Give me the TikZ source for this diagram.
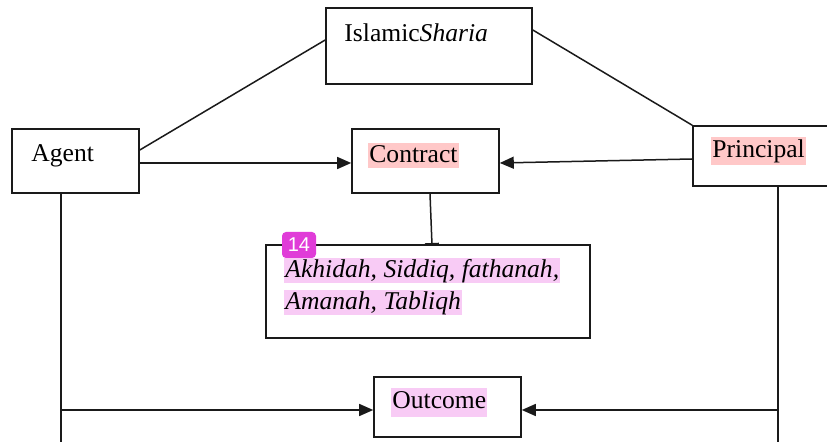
\documentclass[tikz,border=0pt]{standalone}
\usepackage{fontspec}
\setmainfont{Liberation Serif}
\setsansfont{Liberation Sans}
\usetikzlibrary{arrows.meta,calc}
\definecolor{hlred}{HTML}{FFC8C8}
\definecolor{hlmag}{HTML}{F8CBF5}
\definecolor{badge}{HTML}{E03CD8}
\definecolor{linec}{HTML}{1A1A1A}
\begin{document}
\begin{tikzpicture}[x=0.5pt,y=-0.5pt,
  box/.style={draw=linec,line width=0.8pt,inner sep=0pt},
  lbl/.style={inner xsep=0.5pt,inner ysep=0pt,text height=9.6pt,text depth=2.9pt,anchor=west,font=\fontsize{12.8}{15}\selectfont},
  hlr/.style={lbl,fill=hlred},
  hlm/.style={lbl,fill=hlmag},
  conn/.style={draw=linec,line width=0.75pt},
  tri/.style={conn,-{Triangle[length=7pt,width=6pt]}},
  tee/.style={conn,-{Bar[width=7pt,line width=0.9pt]}}]
\useasboundingbox (0,0) rectangle (827,442);
\clip (0,0) rectangle (827,442);
\fill[white] (0,0) rectangle (827,442);
% boxes
\node[box,minimum width=63.5pt,minimum height=32pt] (agent) at (75.5,161) {};
\node[box,minimum width=103pt,minimum height=38pt] (sharia) at (429,46) {};
\node[box,minimum width=73.5pt,minimum height=32pt] (contract) at (425.5,161) {};
\node[box,minimum width=80pt,minimum height=30pt] (principal) at (773,156) {};
\node[box,minimum width=162pt,minimum height=46.5pt] (mid) at (428,291.5) {};
\node[box,minimum width=73.5pt,minimum height=30pt] (outcome) at (447.5,407) {};
% texts
\node[lbl] (tagent) at (30,155) {Agent};
\node[lbl] (tsharia) at (343,35) {Islamic\textit{Sharia}};
\node[hlr] (tcontract) at (368,155.5) {Contract};
\node[hlr,text height=10.2pt,text depth=3.5pt] (tprincipal) at (711,151) {Principal};
\node[hlm] (tmid1) at (284,270.5) {\textit{Akhidah, Siddiq, fathanah,}};
\node[hlm] (tmid2) at (284,302.5) {\textit{Amanah, Tabliqh}};
\node[hlm,text height=10.5pt,text depth=4pt] (toutcome) at (391,402.5) {Outcome};
\node[fill=badge,rounded corners=2pt,minimum width=17pt,minimum height=13pt,inner sep=0pt,text=white,font=\sffamily\fontsize{10}{11}\selectfont] (badge14) at (299,245) {14};
% connectors
\draw[conn] ([yshift=5.5pt]agent.east) -- ([yshift=3pt]sharia.west);
\draw[conn] ([yshift=8pt]sharia.east) -- (principal.north west);
\draw[tri] ([yshift=-1pt]agent.east) -- ([yshift=-1pt]contract.west);
\draw[tri] ([yshift=-1.5pt]principal.west) -- ([yshift=-1pt]contract.east);
\draw[tee] ([xshift=2.25pt]contract.south) -- ([xshift=2pt,yshift=-0.3pt]mid.north);
\coordinate (abot) at (61,442);
\coordinate (aj) at (61,410);
\coordinate (pbot) at (778,442);
\coordinate (pj) at (778,410);
\draw[conn] ([xshift=-7.25pt]agent.south) -- (abot);
\draw[tri] (aj) -- (aj -| outcome.west);
\draw[conn] ([xshift=2.5pt]principal.south) -- (pbot);
\draw[tri] (pj) -- (pj -| outcome.east);
\end{tikzpicture}
\end{document}
